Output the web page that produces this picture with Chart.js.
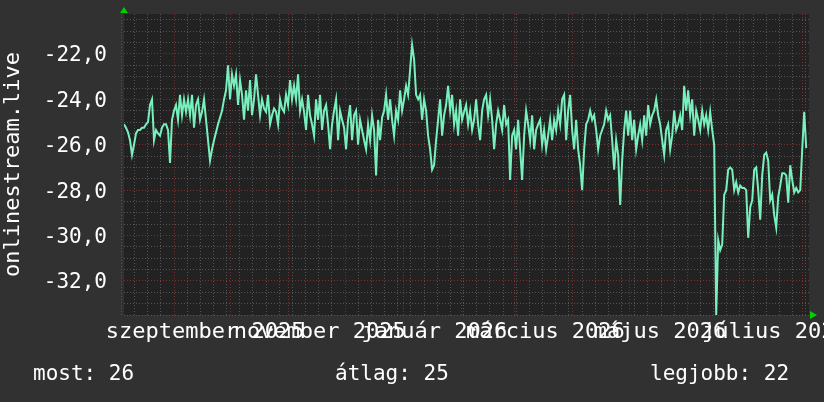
<!DOCTYPE html>
<html>
<head>
<meta charset="utf-8">
<script src="https://cdn.jsdelivr.net/npm/chart.js@4.4.0/dist/chart.umd.min.js"></script>
<style>
html, body { margin: 0; padding: 0; background: #313131; }
</style>
</head>
<body>
<canvas id="graph" width="824" height="402"></canvas>
<script>
// days are counted from 2025-08-01
const firstSampleDay = 4.4;
const sampleStep = 1.064;
const values = [
	-25.1,-25.25,-25.45,-25.8,-26.45,-26.0,-25.5,-25.35,-25.35,-25.25,-25.25,-25.1,-25.0,-24.25,-24.0,-25.8,-25.35,-25.5,-25.6,-25.25,-25.1,-25.1,-25.35,-26.8,
	-24.9,-24.5,-24.25,-24.9,-23.8,-24.7,-24.0,-24.55,-24.0,-24.7,-23.8,-25.25,-24.25,-24.0,-24.9,-24.55,-24.0,-24.9,-25.8,-26.7,-26.2,-25.8,-25.45,-25.1,
	-24.8,-24.5,-24.0,-23.6,-22.5,-24.0,-22.9,-23.4,-22.9,-24.25,-23.15,-23.8,-24.9,-23.6,-24.5,-23.15,-24.7,-24.0,-22.9,-23.8,-24.7,-24.0,-24.4,-24.55,
	-23.8,-25.1,-24.7,-24.4,-24.55,-25.1,-24.0,-24.4,-24.55,-23.8,-24.25,-23.15,-24.0,-23.4,-24.0,-22.9,-24.5,-24.0,-24.55,-25.35,-23.8,-24.7,-25.1,-25.6,
	-24.0,-24.9,-23.8,-25.35,-24.5,-24.25,-25.1,-26.2,-25.1,-24.5,-24.0,-25.8,-24.5,-24.9,-25.25,-26.2,-24.9,-24.25,-25.8,-24.7,-24.5,-26.0,-24.9,-25.35,
	-25.8,-26.2,-25.1,-25.8,-24.7,-25.35,-27.35,-24.9,-25.8,-24.8,-24.5,-23.8,-24.9,-24.0,-24.9,-25.6,-24.5,-24.9,-23.6,-24.5,-24.0,-23.4,-23.8,-22.7,
	-21.6,-22.25,-23.8,-24.0,-23.8,-24.9,-24.0,-24.5,-25.6,-26.2,-27.1,-26.9,-25.8,-24.9,-24.0,-25.6,-24.7,-24.25,-23.4,-24.5,-23.8,-25.1,-24.5,-25.6,
	-24.0,-24.9,-24.55,-24.25,-25.1,-24.5,-25.35,-24.9,-24.0,-25.1,-25.8,-24.5,-24.0,-23.8,-24.7,-24.0,-24.9,-26.2,-25.1,-24.5,-24.9,-25.35,-24.25,-25.1,
	-24.9,-27.55,-25.6,-25.35,-26.2,-24.9,-26.2,-27.55,-25.6,-24.5,-25.1,-25.8,-24.7,-26.2,-25.35,-25.1,-24.9,-26.0,-25.35,-26.2,-25.6,-24.9,-25.8,-24.9,
	-25.35,-24.5,-25.1,-24.0,-23.8,-25.8,-24.5,-23.8,-25.35,-26.2,-24.9,-26.2,-26.9,-28.0,-26.2,-25.1,-24.9,-24.5,-24.9,-24.7,-25.35,-26.2,-25.6,-25.35,
	-25.1,-24.5,-24.9,-24.7,-25.8,-27.1,-25.8,-26.45,-28.65,-26.7,-25.35,-24.5,-25.6,-24.5,-25.8,-24.9,-26.2,-25.6,-25.1,-25.8,-24.7,-25.6,-24.25,-25.1,
	-24.7,-24.5,-24.0,-24.7,-25.1,-25.8,-26.45,-25.35,-25.1,-26.2,-25.6,-24.5,-25.35,-25.1,-24.7,-25.35,-23.4,-24.5,-23.6,-24.7,-24.0,-25.6,-24.5,-24.9,
	-25.35,-24.5,-25.1,-24.7,-25.35,-24.55,-25.35,-26.0,-33.5,-30.2,-30.65,-30.4,-28.2,-28.0,-27.1,-27.0,-27.1,-28.0,-27.65,-28.1,-27.8,-27.9,-27.9,-28.0,
	-30.1,-28.75,-28.45,-27.1,-27.0,-28.0,-29.3,-27.35,-26.45,-26.35,-26.7,-28.45,-28.2,-29.1,-29.65,-28.3,-27.8,-27.25,-27.25,-27.35,-28.55,-26.9,-27.55,-28.1,
	-27.9,-28.1,-28.0,-26.2,-24.55,-26.15
];

// month starts (days from 2025-08-01): sep .. aug
const monthStarts = [31, 61, 92, 122, 153, 184, 212, 243, 273, 304, 334, 365];
const firstMonday = 3;
const xLabels = ['szeptember 2025', 'november 2025', 'január 2026', 'március 2026', 'május 2026', 'július 2026'];
const xLabelMonths = [31, 92, 153, 212, 273, 334];
const xMin = 4.4, xMax = 368.7;
const yMin = -33.5, yMax = -20.24;
const legendItems = ['most: 26', 'átlag: 25', 'legjobb: 22'];

const points = values.map((v, i) => ({x: firstSampleDay + i * sampleStep, y: v}));

const RED = 'rgba(130,50,50,0.9)';
const GRAY = 'rgba(90,90,90,0.9)';
const MONO = '"DejaVu Sans Mono", monospace';

const frame = {
	id: 'frame',
	beforeDraw(chart) {
		const {ctx, chartArea: a} = chart;
		ctx.save();
		ctx.fillStyle = '#313131';
		ctx.fillRect(0, 0, chart.width, chart.height);
		ctx.fillStyle = '#222222';
		ctx.fillRect(a.left, a.top, a.right - a.left, a.bottom - a.top);
		ctx.restore();
	},
	afterDraw(chart) {
		const {ctx, chartArea: a} = chart;
		ctx.save();
		// axis arrows
		ctx.fillStyle = '#00d000';
		ctx.beginPath();
		ctx.moveTo(a.left - 4, a.top - 1);
		ctx.lineTo(a.left + 4, a.top - 1);
		ctx.lineTo(a.left, a.top - 7);
		ctx.closePath();
		ctx.fill();
		ctx.beginPath();
		ctx.moveTo(a.right + 1, a.bottom - 4);
		ctx.lineTo(a.right + 1, a.bottom + 4);
		ctx.lineTo(a.right + 8, a.bottom);
		ctx.closePath();
		ctx.fill();

		// legend row
		ctx.fillStyle = '#ffffff';
		ctx.font = '21px ' + MONO;
		ctx.textBaseline = 'middle';
		const xs = [33, 335, 650];
		legendItems.forEach((t, i) => ctx.fillText(t, xs[i], 375));
		ctx.restore();
	}
};

new Chart(document.getElementById('graph'), {
	type: 'line',
	data: {
		datasets: [{
			data: points,
			borderColor: '#78f0bd',
			borderWidth: 2,
			pointRadius: 0,
			tension: 0,
			fill: false
		}]
	},
	options: {
		responsive: false,
		animation: false,
		layout: {padding: {top: 14, right: 15, left: 0, bottom: 57}},
		plugins: {legend: {display: false}, tooltip: {enabled: false}},
		scales: {
			x: {
				type: 'linear',
				min: xMin,
				max: xMax,
				afterBuildTicks(scale) {
					const ticks = monthStarts.map(v => ({value: v, major: true}));
					for (let d = firstMonday; d < xMax; d += 7) {
						if (!monthStarts.includes(d)) ticks.push({value: d, major: false});
					}
					ticks.sort((p, q) => p.value - q.value);
					scale.ticks = ticks;
				},
				afterFit(scale) {
					scale.height = 0;
					scale.paddingLeft = 0;
					scale.paddingRight = 0;
				},
				ticks: {display: false, autoSkip: false},
				grid: {
					drawTicks: false,
					color: c => (c.tick && c.tick.major) ? RED : GRAY,
					lineWidth: 1
				},
				border: {display: false, dash: [1, 2]}
			},
			xLabels: {
				type: 'linear',
				position: 'bottom',
				min: xMin,
				max: xMax,
				afterBuildTicks(scale) {
					scale.ticks = xLabelMonths.map(v => ({value: v + 16.5}));
				},
				afterFit(scale) {
					scale.height = 30;
					scale.paddingLeft = 0;
					scale.paddingRight = 0;
				},
				grid: {display: false, drawTicks: false},
				border: {display: false},
				ticks: {
					autoSkip: false,
					maxRotation: 0,
					minRotation: 0,
					padding: 4,
					color: '#ffffff',
					font: {family: MONO, size: 22},
					callback: (v, i) => xLabels[i]
				}
			},
			y: {
				type: 'linear',
				min: yMin,
				max: yMax,
				afterBuildTicks(scale) {
					const ticks = [];
					for (let v = yMin; v < yMax; v += 0.5) ticks.push({value: v});
					scale.ticks = ticks;
				},
				afterFit(scale) {
					scale.width = 124;
					scale.paddingTop = 0;
					scale.paddingBottom = 0;
				},
				grid: {
					drawTicks: false,
					color: c => (c.tick && Math.abs(c.tick.value % 2) < 1e-6) ? RED : GRAY,
					lineWidth: 1
				},
				border: {display: false, dash: [1, 2]},
				ticks: {
					autoSkip: false,
					padding: 17,
					labelOffset: 2,
					color: '#ffffff',
					font: {family: MONO, size: 21},
					callback: v => Math.abs(v % 2) < 1e-6 ? v.toFixed(1).replace('.', ',') : ''
				},
				title: {
					display: true,
					text: 'onlinestream.live',
					color: '#ffffff',
					font: {family: MONO, size: 22, lineHeight: 1},
					padding: {top: 2, bottom: 0}
				}
			}
		}
	},
	plugins: [frame]
});
</script>
</body>
</html>
